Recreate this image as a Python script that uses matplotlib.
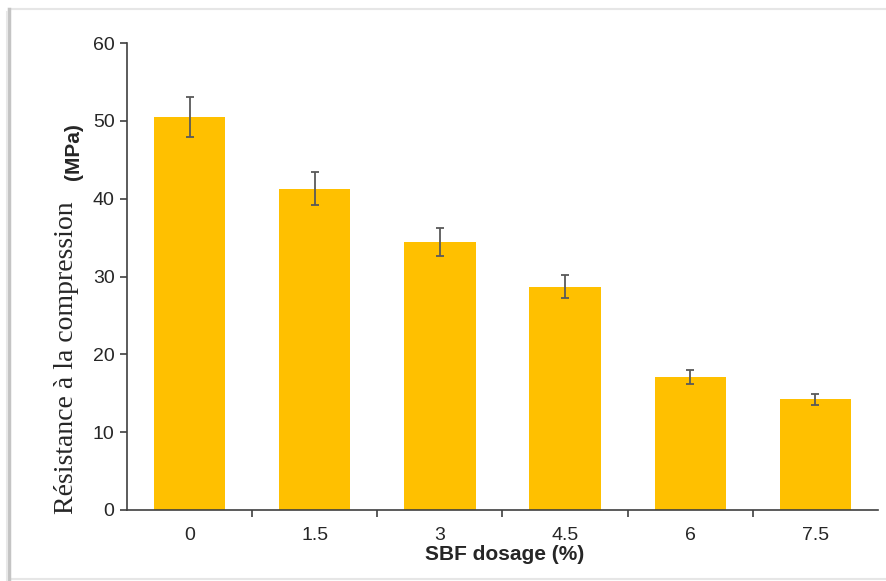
import matplotlib
matplotlib.use("Agg")
import matplotlib.pyplot as plt
from matplotlib.lines import Line2D

categories = ["0", "1.5", "3", "4.5", "6", "7.5"]
strength = [50.5, 41.3, 34.4, 28.7, 17.1, 14.2]
errors = [2.6, 2.1, 1.8, 1.5, 0.9, 0.75]
y_ticks = [0, 10, 20, 30, 40, 50, 60]

W, H = 886, 581
fig = plt.figure(figsize=(W / 100, H / 100), dpi=100)

# light frame / shadow around the picture
def fx(px):
    return px / W

def fy(py):
    return 1 - py / H

fig.add_artist(Line2D([fx(9), 1], [fy(9), fy(9)], color="#e6e6e6", lw=1.5, transform=fig.transFigure))
fig.add_artist(Line2D([fx(9), 1], [fy(579), fy(579)], color="#e6e6e6", lw=1.5, transform=fig.transFigure))
fig.add_artist(Line2D([fx(9), fx(9)], [fy(9), fy(581)], color="#c4c4c4", lw=2.5, transform=fig.transFigure))
fig.add_artist(Line2D([fx(7), fx(7)], [fy(12), fy(581)], color="#e8e8e8", lw=1.5, transform=fig.transFigure))

left, right, bottom, top = 127, 878, 510, 43
ax = fig.add_axes([fx(left), fy(bottom), (right - left) / W, (bottom - top) / H])

x = list(range(len(categories)))
ax.bar(x, strength, width=0.57, color="#FFC000", zorder=2)
ax.errorbar(x, strength, yerr=errors, fmt="none", ecolor="#595959", elinewidth=1.3,
            capsize=3, capthick=1.3, zorder=3)

ax.set_xlim(-0.5, len(categories) - 0.5)
ax.set_ylim(0, 60)

axis_col = "#404040"
for s in ["top", "right"]:
    ax.spines[s].set_visible(False)
for s in ["left", "bottom"]:
    ax.spines[s].set_color(axis_col)
    ax.spines[s].set_linewidth(1.2)

ax.set_yticks(y_ticks)
ax.set_yticklabels([str(v) for v in y_ticks])
ax.tick_params(axis="y", direction="out", length=5, width=1.2, color=axis_col,
               labelsize=14, labelcolor="#262626", pad=4)

# major ticks between categories, labels at category centres
ax.set_xticks([i + 0.5 for i in x[:-1]])
ax.set_xticklabels([])
ax.set_xticks(x, minor=True)
ax.set_xticklabels(categories, minor=True)
ax.tick_params(axis="x", which="major", direction="out", length=5, width=1.2, color=axis_col)
ax.tick_params(axis="x", which="minor", length=0, labelsize=14, labelcolor="#262626", pad=12)

for lab in ax.get_xticklabels(minor=True) + ax.get_yticklabels():
    lab.set_fontfamily("Liberation Sans")

fig.text(fx(505), fy(554), "SBF dosage (%)", ha="center", va="center",
         fontsize=15, fontweight="bold", family="Liberation Sans", color="#262626")

fig.text(fx(67), fy(358), "Résistance à la compression", rotation=90, ha="center", va="center",
         fontsize=20, family="Liberation Serif", color="#262626")
fig.text(fx(74), fy(152), "(MPa)", rotation=90, ha="center", va="center",
         fontsize=15, fontweight="bold", family="Liberation Sans", color="#262626")

fig.savefig("out.png", dpi=100)
